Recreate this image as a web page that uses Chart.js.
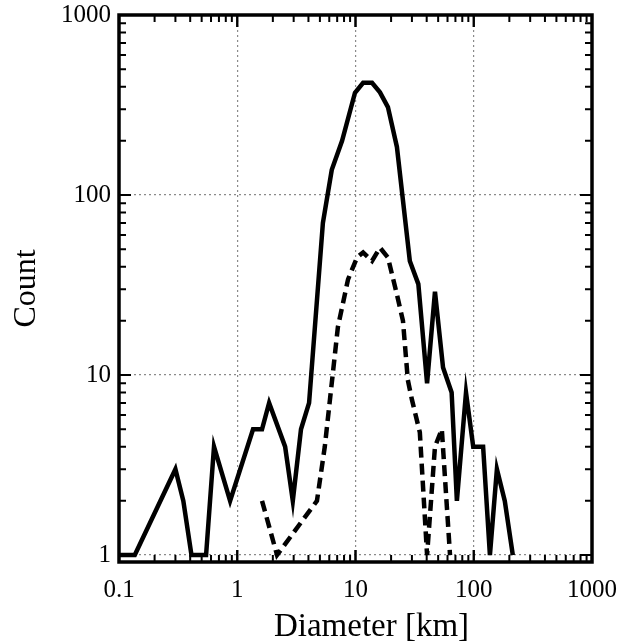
<!DOCTYPE html>
<html><head><meta charset="utf-8">
<script src="https://cdn.jsdelivr.net/npm/chart.js@4/dist/chart.umd.min.js"></script>
<style>html,body{margin:0;padding:0;background:#fff}#wrap{width:626px;height:643px}</style>
</head><body><div id="wrap"><canvas id="c" width="626" height="643"></canvas></div>
<script>
// Data (log-log size distribution)
const solidDiam  = [0.1, 0.136, 0.30, 0.35, 0.41, 0.545, 0.636, 0.87, 1.36, 1.62, 1.86, 2.54, 2.95, 3.46, 4.05, 5.3, 6.3, 7.7, 9.9, 11.6, 13.8, 16.1, 18.8, 22.4, 28.8, 34, 40.3, 47, 55, 65, 72, 86, 99, 120, 137, 157, 183, 214];
const solidCount = [1, 1, 3, 2, 1, 1, 4, 2, 5, 5, 7, 4, 2, 5, 7, 70, 138, 200, 370, 420, 420, 372, 308, 185, 43, 32, 9, 29, 11, 8, 2, 8, 4, 4, 1, 3, 2, 1];
const dashedDiam  = [1.62, 2.17, 4.72, 5.5, 7.1, 8.65, 10.3, 11.6, 13.8, 16.1, 18.8, 22.4, 25.2, 27.7, 30, 35, 40.3, 47, 53.7, 63];
const dashedCount = [2, 1, 2, 4, 18.5, 34, 45, 48, 43, 51, 45, 28, 20, 9.4, 7.3, 4.8, 1, 4, 5, 1];
const xTickValues = [0.1, 1, 10, 100, 1000];
const yTickValues = [1, 10, 100, 1000];
const xTitle = 'Diameter [km]';
const yTitle = 'Count';

const toPts = (xs, ys) => xs.map((x, i) => ({x: x, y: ys[i]}));
const SERIF = '"Liberation Serif", "DejaVu Serif", serif';

const frameTicks = {
  id: 'frameTicks',
  afterDatasetsDraw(chart) {
    const ctx = chart.ctx, a = chart.chartArea;
    const xs = chart.scales.x, ys = chart.scales.y;
    ctx.save();
    ctx.strokeStyle = '#000';
    ctx.lineWidth = 2;
    for (let d = 0.1; d < 1000; d *= 10) {
      for (let k = 1; k <= 10; k++) {
        const px = xs.getPixelForValue(k * d);
        const len = (k === 1 || k === 10) ? 12 : 7;
        ctx.beginPath();
        ctx.moveTo(px, a.bottom); ctx.lineTo(px, a.bottom - len);
        ctx.moveTo(px, a.top); ctx.lineTo(px, a.top + len);
        ctx.stroke();
      }
    }
    for (let d = 1; d < 1000; d *= 10) {
      for (let k = 1; k <= 10; k++) {
        const py = ys.getPixelForValue(k * d);
        const len = (k === 1 || k === 10) ? 12 : 7;
        ctx.beginPath();
        ctx.moveTo(a.left, py); ctx.lineTo(a.left + len, py);
        ctx.moveTo(a.right, py); ctx.lineTo(a.right - len, py);
        ctx.stroke();
      }
    }
    ctx.lineWidth = 3.5;
    ctx.strokeRect(a.left, a.top, a.right - a.left, a.bottom - a.top);
    // x-axis title (offset slightly right of centre as in the reference)
    ctx.fillStyle = '#000';
    ctx.font = '33px ' + SERIF;
    ctx.textAlign = 'center';
    ctx.textBaseline = 'alphabetic';
    ctx.fillText(xTitle, (a.left + a.right) / 2 + 16, 636);
    ctx.restore();
  }
};

new Chart(document.getElementById('c'), {
  type: 'line',
  data: {
    datasets: [
      { label: 'all', data: toPts(solidDiam, solidCount), borderColor: '#000', borderWidth: 4.5,
        pointRadius: 0, fill: false, tension: 0, borderJoinStyle: 'miter', clip: false },
      { label: 'subset', data: toPts(dashedDiam, dashedCount), borderColor: '#000', borderWidth: 4.5,
        borderDash: [11, 6], pointRadius: 0, fill: false, tension: 0, borderJoinStyle: 'miter', clip: false }
    ]
  },
  options: {
    responsive: false,
    devicePixelRatio: 1,
    animation: false,
    layout: { padding: { top: 15, right: 34, left: 0, bottom: 0 } },
    plugins: { legend: { display: false }, tooltip: { enabled: false } },
    scales: {
      x: {
        type: 'logarithmic', position: 'bottom', min: 0.1, max: 1000,
        afterBuildTicks: s => { s.ticks = xTickValues.map(v => ({value: v, major: true})); },
        afterFit: s => { s.height = 81; s.paddingLeft = 0; s.paddingRight = 0; },
        grid: {
          drawTicks: false, lineWidth: 1.2,
          color: c => (c.tick && (c.tick.value === 0.1 || c.tick.value === 1000)) ? 'rgba(0,0,0,0)' : '#8a8a8a'
        },
        border: { display: false, dash: [2, 3] },
        ticks: { color: '#000', font: { family: SERIF, size: 25 }, padding: 13, maxRotation: 0,
          callback: v => String(v) },
        title: { display: false }
      },
      y: {
        type: 'logarithmic', position: 'left', min: 0.915, max: 1000,
        afterBuildTicks: s => { s.ticks = yTickValues.map(v => ({value: v, major: true})); },
        afterFit: s => { s.width = 119; s.paddingTop = 0; s.paddingBottom = 0; },
        grid: {
          drawTicks: false, lineWidth: 1.2,
          color: c => (c.tick && c.tick.value === 1000) ? 'rgba(0,0,0,0)' : '#8a8a8a'
        },
        border: { display: false, dash: [2, 3] },
        ticks: { color: '#000', font: { family: SERIF, size: 25 }, padding: 8,
          callback: v => String(v) },
        title: { display: true, text: yTitle, color: '#000', font: { family: SERIF, size: 32 }, padding: { top: 7, bottom: 0 } }
      }
    }
  },
  plugins: [frameTicks]
});
</script>
</body></html>
